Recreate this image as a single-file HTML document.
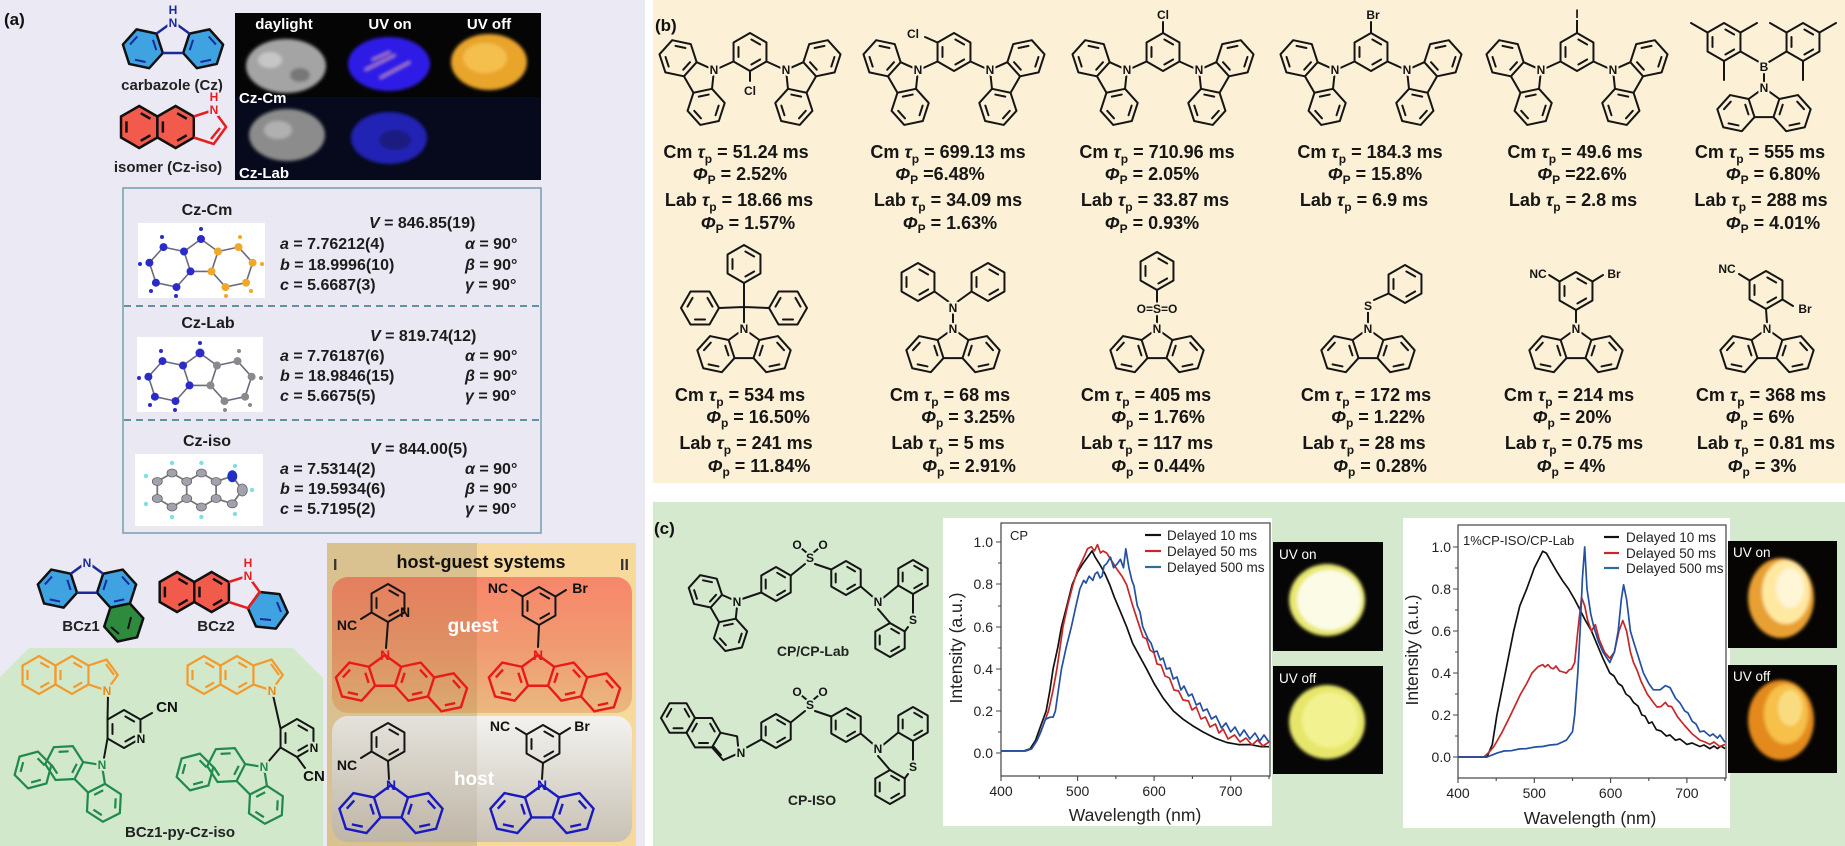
<!DOCTYPE html>
<html><head><meta charset="utf-8">
<style>
html,body{margin:0;padding:0;background:#fff;}
svg{display:block;}
text{font-family:"Liberation Sans",Arial,sans-serif;}
.t{font-size:18px;font-weight:bold;fill:#161616;text-anchor:middle;}
.cr{font-size:16px;font-weight:bold;fill:#1c1c1c;}
.i{font-style:italic;}
.ml{fill:none;stroke:#151515;stroke-width:2;stroke-linejoin:round;stroke-linecap:round;}
.at{font-size:12px;font-weight:bold;text-anchor:middle;paint-order:stroke;stroke-width:4px;stroke-linejoin:round;}
.atb{stroke:#fcf0d6;fill:#151515;}
.atc{stroke:#d5e9cf;fill:#151515;}
.tk{font-size:14px;fill:#222;}
.lg{font-size:13.5px;fill:#222;}
.cv{fill:none;stroke-width:1.7;stroke-linejoin:round;}
</style></head>
<body>
<svg width="1845" height="846" viewBox="0 0 1845 846" xmlns="http://www.w3.org/2000/svg">
<defs>
 <path id="czR" vector-effect="non-scaling-stroke" d="M0.809,-0.263 L1.787,-0.471 L2.456,0.272 L2.147,1.223 L1.169,1.431 L0.5,0.688 Z M-0.809,-0.263 L-1.787,-0.471 L-2.456,0.272 L-2.147,1.223 L-1.169,1.431 L-0.5,0.688 Z"/>
 <path id="czP" vector-effect="non-scaling-stroke" fill="none" d="M-0.809,-0.263 L0,-0.851 L0.809,-0.263 M-0.5,0.688 L0.5,0.688"/>
 <path id="czI" vector-effect="non-scaling-stroke" fill="none" d="M1.750,-0.124 L2.107,0.272 M1.864,1.018 L1.344,1.128 M0.819,0.546 L0.984,0.040 M-1.750,-0.124 L-2.107,0.272 M-1.864,1.018 L-1.344,1.128 M-0.819,0.546 L-0.984,0.040"/>
 <g id="cz"><use href="#czR"/><use href="#czP"/><use href="#czI"/></g>
 <path id="hx" vector-effect="non-scaling-stroke" d="M0,-1 L0.866,-0.5 L0.866,0.5 L0,1 L-0.866,0.5 L-0.866,-0.5 Z M0.073,-0.658 L0.533,-0.392 M0.533,0.392 L0.073,0.658 M-0.606,0.266 L-0.606,-0.266"/>
 <path id="bzx" vector-effect="non-scaling-stroke" fill="none" d="M2.456,0.272 L3.434,0.064 L4.103,0.807 L3.794,1.758 L2.816,1.966 L2.147,1.223 M3.397,0.411 L3.754,0.807 M3.511,1.553 L2.991,1.663"/>
 <linearGradient id="gg" x1="0" y1="0" x2="0" y2="1"><stop offset="0" stop-color="#f7866a"/><stop offset="0.55" stop-color="#f09c72"/><stop offset="1" stop-color="#e9b97f"/></linearGradient>
 <linearGradient id="hg" x1="0" y1="0" x2="0" y2="1"><stop offset="0" stop-color="#f3f2ef"/><stop offset="1" stop-color="#c8c1b4"/></linearGradient>
 <clipPath id="gc"><rect x="332" y="577" width="300" height="136" rx="16"/></clipPath>
 <clipPath id="hc"><rect x="332" y="716" width="300" height="126" rx="16"/></clipPath>
 <filter id="bl" x="-20%" y="-20%" width="140%" height="140%"><feGaussianBlur stdDeviation="1.6"/></filter>
 <filter id="bl2" x="-20%" y="-20%" width="140%" height="140%"><feGaussianBlur stdDeviation="3"/></filter>
</defs>

<!-- panel backgrounds -->
<rect x="0" y="0" width="1845" height="846" fill="#ffffff"/>
<rect x="0" y="0" width="645" height="846" fill="#ebe9f4"/>
<rect x="653" y="0" width="1192" height="483" fill="#fcf0d6"/>
<rect x="653" y="502" width="1192" height="344" fill="#d5e9cf"/>

<!-- ================= PANEL (a) ================= -->
<text x="4" y="25" font-size="17" font-weight="bold" fill="#111">(a)</text>

<!-- carbazole (Cz) colored -->
<use href="#czR" transform="translate(173,39) scale(20.4)" fill="#3fa3e2" stroke="#111" stroke-width="2.5" stroke-linejoin="round"/>
<use href="#czI" transform="translate(173,39) scale(20.4)" stroke="#1a2a9a" stroke-width="2"/>
<use href="#czP" transform="translate(173,39) scale(20.4)" stroke="#1a2a9a" stroke-width="2.5"/>
<text x="173" y="27" class="at" style="stroke:#ebe9f4;fill:#1a2a9a" font-size="13">N</text>
<text x="173" y="14" class="at" style="stroke:#ebe9f4;fill:#1a2a9a" font-size="13">H</text>
<text x="172" y="90" font-size="15" font-weight="bold" fill="#222" text-anchor="middle">carbazole (Cz)</text>

<!-- isomer -->
<use href="#hx" transform="translate(139.2,127) scale(21)" fill="#f25a4c" stroke="#111" stroke-width="2.5"/>
<use href="#hx" transform="translate(175.6,127) scale(21)" fill="#f25a4c" stroke="#111" stroke-width="2.5"/>
<path d="M193.8,116.5 L213.7,110 L226.1,127 L213.7,144 L193.8,137.5 M220,128 L211,139" fill="none" stroke="#e81e1e" stroke-width="2.5" stroke-linejoin="round"/>
<text x="214" y="114" class="at" style="stroke:#ebe9f4;fill:#e81e1e" font-size="13">N</text>
<text x="214" y="101" class="at" style="stroke:#ebe9f4;fill:#e81e1e" font-size="13">H</text>
<text x="168" y="172" font-size="15" font-weight="bold" fill="#222" text-anchor="middle">isomer (Cz-iso)</text>

<!-- photos -->
<rect x="235" y="13" width="306" height="167" fill="#050505"/>
<rect x="235" y="97" width="306" height="83" fill="#060a1c"/>
<g filter="url(#bl)">
 <ellipse cx="286" cy="66" rx="40" ry="27" fill="#a4a4a4"/>
 <ellipse cx="270" cy="60" rx="12" ry="8" fill="#c6c6c6"/>
 <ellipse cx="300" cy="75" rx="10" ry="7" fill="#777"/>
 <ellipse cx="389" cy="64" rx="41" ry="27" fill="#2d1de6"/>
 <path d="M365,70 L395,55 M380,78 L410,62 M372,60 L390,52" stroke="#c08a9a" stroke-width="2"/>
 <ellipse cx="489" cy="62" rx="38" ry="28" fill="#e9a42a"/>
 <ellipse cx="485" cy="58" rx="22" ry="15" fill="#f4bf4e"/>
 <ellipse cx="287" cy="135" rx="38" ry="26" fill="#8c8c8c"/>
 <ellipse cx="278" cy="130" rx="14" ry="9" fill="#b0b0b0"/>
 <ellipse cx="389" cy="138" rx="38" ry="26" fill="#2424b4"/>
 <ellipse cx="395" cy="140" rx="16" ry="10" fill="#1a1a80"/>
</g>
<text x="284" y="29" font-size="15" font-weight="bold" fill="#fff" text-anchor="middle">daylight</text>
<text x="390" y="29" font-size="15" font-weight="bold" fill="#fff" text-anchor="middle">UV on</text>
<text x="489" y="29" font-size="15" font-weight="bold" fill="#fff" text-anchor="middle">UV off</text>
<text x="239" y="103" font-size="15" font-weight="bold" fill="#fff">Cz-Cm</text>
<text x="239" y="178" font-size="15" font-weight="bold" fill="#fff">Cz-Lab</text>

<!-- crystal data box -->
<rect x="123" y="188" width="418" height="345" fill="#e9e8f3" stroke="#7ba3b3" stroke-width="1.6"/>
<path d="M124,306 H540 M124,420 H540" stroke="#5e93a4" stroke-width="2" stroke-dasharray="7 5"/>

<!-- ORTEP 1 -->
<rect x="138" y="223" width="127" height="75" fill="#fff"/>
<use href="#czR" transform="translate(201,257) scale(21)" fill="none" stroke="#6a6a80" stroke-width="1.6"/>
<use href="#czP" transform="translate(201,257) scale(21)" stroke="#6a6a80" stroke-width="1.6"/>
<g fill="#2b2bc8">
 <circle cx="201" cy="239" r="4"/><circle cx="184" cy="251.5" r="4"/><circle cx="163.5" cy="247.1" r="4"/><circle cx="149.4" cy="262.7" r="4"/><circle cx="155.9" cy="282.7" r="4"/><circle cx="176.5" cy="287.1" r="4"/><circle cx="190.5" cy="271.4" r="4"/>
 <circle cx="201" cy="229" r="2"/><circle cx="162" cy="237" r="2"/><circle cx="140" cy="264" r="2"/><circle cx="151" cy="291" r="2"/><circle cx="176" cy="296" r="2"/>
</g>
<g fill="#f0a828">
 <circle cx="218" cy="251.5" r="4"/><circle cx="238.5" cy="247.1" r="4"/><circle cx="252.6" cy="262.7" r="4"/><circle cx="246.1" cy="282.7" r="4"/><circle cx="225.5" cy="287.1" r="4"/><circle cx="211.5" cy="271.4" r="4"/>
 <circle cx="240" cy="237" r="2"/><circle cx="262" cy="264" r="2"/><circle cx="251" cy="291" r="2"/><circle cx="226" cy="296" r="2"/>
</g>
<!-- ORTEP 2 -->
<rect x="137" y="337" width="126" height="75" fill="#fff"/>
<use href="#czR" transform="translate(200,371) scale(21)" fill="none" stroke="#6a6a80" stroke-width="1.6"/>
<use href="#czP" transform="translate(200,371) scale(21)" stroke="#6a6a80" stroke-width="1.6"/>
<g fill="#2b2bc8">
 <circle cx="200" cy="353" r="4.5"/><circle cx="183" cy="365.5" r="4"/><circle cx="162.5" cy="361.1" r="4"/><circle cx="148.4" cy="376.7" r="4"/><circle cx="154.9" cy="396.7" r="4"/><circle cx="175.5" cy="401.1" r="4"/><circle cx="189.5" cy="385.4" r="4"/>
 <circle cx="200" cy="343" r="2"/><circle cx="161" cy="351" r="2"/><circle cx="139" cy="378" r="2"/><circle cx="150" cy="405" r="2"/><circle cx="175" cy="410" r="2"/>
</g>
<g fill="#8a8a8a">
 <circle cx="217" cy="365.5" r="4"/><circle cx="237.5" cy="361.1" r="4"/><circle cx="251.6" cy="376.7" r="4"/><circle cx="245.1" cy="396.7" r="4"/><circle cx="224.5" cy="401.1" r="4"/><circle cx="210.5" cy="385.4" r="4"/>
 <circle cx="239" cy="351" r="2"/><circle cx="261" cy="378" r="2"/><circle cx="250" cy="405" r="2"/><circle cx="225" cy="410" r="2"/>
</g>
<!-- ORTEP 3 -->
<rect x="135" y="454" width="128" height="72" fill="#fff"/>
<path d="M172,473 L186.7,481.5 L186.7,498.5 L172,507 L157.3,498.5 L157.3,481.5 Z M186.7,481.5 L201.4,473 L216.1,481.5 L216.1,498.5 L201.4,507 L186.7,498.5 M216.1,481.5 L232.3,476.2 L242.3,490 L232.3,503.8 L216.1,498.5" fill="none" stroke="#777" stroke-width="1.8"/>
<g fill="#a2a2ae" stroke="#666" stroke-width="0.8">
 <ellipse cx="172" cy="473" rx="5" ry="4"/><ellipse cx="186.7" cy="481.5" rx="5" ry="4"/><ellipse cx="186.7" cy="498.5" rx="5" ry="4"/><ellipse cx="172" cy="507" rx="5" ry="4"/><ellipse cx="157.3" cy="498.5" rx="5" ry="4"/><ellipse cx="157.3" cy="481.5" rx="5" ry="4"/>
 <ellipse cx="201.4" cy="473" rx="5" ry="4"/><ellipse cx="216.1" cy="481.5" rx="5" ry="4"/><ellipse cx="216.1" cy="498.5" rx="5" ry="4"/><ellipse cx="201.4" cy="507" rx="5" ry="4"/>
 <ellipse cx="242.3" cy="490" rx="5" ry="6"/><ellipse cx="232.3" cy="503.8" rx="5" ry="4"/>
</g>
<ellipse cx="232.3" cy="476.2" rx="5" ry="6" fill="#2030c0"/>
<g fill="#7ee0e0">
 <circle cx="172" cy="463" r="2.2"/><circle cx="146" cy="476" r="2.2"/><circle cx="146" cy="504" r="2.2"/><circle cx="172" cy="517" r="2.2"/><circle cx="201.4" cy="463" r="2.2"/><circle cx="201.4" cy="517" r="2.2"/><circle cx="235" cy="466" r="2.2"/><circle cx="252" cy="490" r="2.2"/><circle cx="235" cy="514" r="2.2"/>
</g>

<!-- crystal texts -->
<text class="cr" x="207" y="215" text-anchor="middle" font-size="15">Cz-Cm</text>
<text class="cr" x="369" y="228"><tspan class="i">V</tspan> = 846.85(19)</text>
<text class="cr" x="280" y="249"><tspan class="i">a</tspan> = 7.76212(4)</text>
<text class="cr" x="465" y="249"><tspan class="i">α</tspan> = 90°</text>
<text class="cr" x="280" y="270"><tspan class="i">b</tspan> = 18.9996(10)</text>
<text class="cr" x="465" y="270"><tspan class="i">β</tspan> = 90°</text>
<text class="cr" x="280" y="290"><tspan class="i">c</tspan> = 5.6687(3)</text>
<text class="cr" x="465" y="290"><tspan class="i">γ</tspan> = 90°</text>

<text class="cr" x="208" y="328" text-anchor="middle" font-size="15">Cz-Lab</text>
<text class="cr" x="370" y="341"><tspan class="i">V</tspan> = 819.74(12)</text>
<text class="cr" x="280" y="361"><tspan class="i">a</tspan> = 7.76187(6)</text>
<text class="cr" x="465" y="361"><tspan class="i">α</tspan> = 90°</text>
<text class="cr" x="280" y="381"><tspan class="i">b</tspan> = 18.9846(15)</text>
<text class="cr" x="465" y="381"><tspan class="i">β</tspan> = 90°</text>
<text class="cr" x="280" y="401"><tspan class="i">c</tspan> = 5.6675(5)</text>
<text class="cr" x="465" y="401"><tspan class="i">γ</tspan> = 90°</text>

<text class="cr" x="207" y="446" text-anchor="middle" font-size="15">Cz-iso</text>
<text class="cr" x="370" y="454"><tspan class="i">V</tspan> = 844.00(5)</text>
<text class="cr" x="280" y="474"><tspan class="i">a</tspan> = 7.5314(2)</text>
<text class="cr" x="465" y="474"><tspan class="i">α</tspan> = 90°</text>
<text class="cr" x="280" y="494"><tspan class="i">b</tspan> = 19.5934(6)</text>
<text class="cr" x="465" y="494"><tspan class="i">β</tspan> = 90°</text>
<text class="cr" x="280" y="514"><tspan class="i">c</tspan> = 5.7195(2)</text>
<text class="cr" x="465" y="514"><tspan class="i">γ</tspan> = 90°</text>

<!-- BCz1 -->
<use href="#czR" transform="translate(87,579) scale(20)" fill="#3fa3e2" stroke="#111" stroke-width="2.5"/>
<polygon points="129.9,603.5 143.3,618.3 137.1,637.3 117.6,641.5 104.2,626.6 110.4,607.6" fill="#2e8b3e" stroke="#111" stroke-width="2.5" stroke-linejoin="round"/>
<path d="M131,617 L128,629 M119,634 L111,627" stroke="#111" stroke-width="2"/>
<use href="#czI" transform="translate(87,579) scale(20)" stroke="#1a2a9a" stroke-width="2"/>
<use href="#czP" transform="translate(87,579) scale(20)" stroke="#1a2a9a" stroke-width="2.5"/>
<text x="87" y="567" class="at" style="stroke:#ebe9f4;fill:#1a2a9a" font-size="13">N</text>
<text x="81" y="631" font-size="15" font-weight="bold" fill="#222" text-anchor="middle">BCz1</text>

<!-- BCz2 -->
<use href="#hx" transform="translate(177,592) scale(20)" fill="#f25a4c" stroke="#111" stroke-width="2.5"/>
<use href="#hx" transform="translate(211.6,592) scale(20)" fill="#f25a4c" stroke="#111" stroke-width="2.5"/>
<polygon points="259.7,592 279.6,594.1 287.7,612.4 275.9,628.6 256,626.5 247.9,608.2" fill="#3fa3e2" stroke="#111" stroke-width="2.5" stroke-linejoin="round"/>
<path d="M228.9,582 L247.9,575.8 L259.7,592 L247.9,608.2 L228.9,602" fill="none" stroke="#e81e1e" stroke-width="2.5"/>
<path d="M277,602 L281,612 M271,620 L260,619" stroke="#1a2a9a" stroke-width="2"/>
<text x="248" y="580" class="at" style="stroke:#ebe9f4;fill:#e81e1e" font-size="13">N</text>
<text x="248" y="567" class="at" style="stroke:#ebe9f4;fill:#e81e1e" font-size="13">H</text>
<text x="216" y="631" font-size="15" font-weight="bold" fill="#222" text-anchor="middle">BCz2</text>

<!-- green region -->
<polygon points="0,677 29,648 293,648 323,678 323,846 0,846" fill="#d2e8cb"/>
<!-- left molecule -->
<g stroke="#f39a2c" stroke-width="2.2" fill="none">
 <use href="#hx" transform="translate(39,675) scale(19)"/>
 <use href="#hx" transform="translate(72,675) scale(19)"/>
 <path d="M88.5,665.5 L106.6,659.6 L117.8,675 L106.6,690.4 L88.5,684.5 M106,664 L114,675"/>
 <use href="#hx" transform="translate(204,675) scale(19)"/>
 <use href="#hx" transform="translate(237,675) scale(19)"/>
 <path d="M253.5,665.5 L271.6,659.6 L282.8,675 L271.6,690.4 L253.5,684.5 M271,664 L279,675"/>
</g>
<g class="ml" stroke-width="2.2">
 <use href="#hx" transform="translate(124,729) scale(19)"/>
 <path d="M108,695 L107.5,719.5 M140.5,719.5 L152,713 M107.5,738.5 L104,758"/>
 <use href="#hx" transform="translate(297,738) scale(19)"/>
 <path d="M273,695 L280.5,728.5 M297,757 L305,768 M280.5,747.5 L268,762"/>
</g>
<g stroke="#1f8a4c" stroke-width="2.2" fill="none">
 <use href="#cz" transform="translate(90.5,776.5) rotate(45) scale(19)"/>
 <use href="#hx" transform="translate(33,770) rotate(15) scale(19)"/>
 <use href="#cz" transform="translate(252.5,778.5) rotate(45) scale(19)"/>
 <use href="#hx" transform="translate(195,772) rotate(15) scale(19)"/>
</g>
<text x="107" y="695" class="at" style="stroke:#d2e8cb;fill:#e8891a">N</text>
<text x="272" y="695" class="at" style="stroke:#d2e8cb;fill:#e8891a">N</text>
<text x="141" y="743" class="at" style="stroke:#d2e8cb;fill:#111">N</text>
<text x="314" y="752" class="at" style="stroke:#d2e8cb;fill:#111">N</text>
<text x="167" y="712" font-size="15" font-weight="bold" fill="#111" text-anchor="middle">CN</text>
<text x="314" y="781" font-size="15" font-weight="bold" fill="#111" text-anchor="middle">CN</text>
<text x="102" y="769" class="at" style="stroke:#d2e8cb;fill:#1f8a4c">N</text>
<text x="264" y="771" class="at" style="stroke:#d2e8cb;fill:#1f8a4c">N</text>
<text x="180" y="837" font-size="15" font-weight="bold" fill="#222" text-anchor="middle">BCz1-py-Cz-iso</text>

<!-- host-guest box -->
<rect x="327" y="543" width="150" height="303" fill="#d9c28f"/>
<rect x="477" y="543" width="159" height="303" fill="#f6d99b"/>
<g clip-path="url(#gc)">
 <rect x="332" y="577" width="300" height="136" fill="url(#gg)"/>
 <rect x="332" y="577" width="145" height="136" fill="#6a4a10" opacity="0.13"/>
</g>
<g clip-path="url(#hc)">
 <rect x="332" y="716" width="300" height="126" fill="url(#hg)"/>
 <rect x="332" y="716" width="145" height="126" fill="#6a5a30" opacity="0.1"/>
</g>
<text x="333" y="570" font-size="16" font-weight="bold" fill="#333">I</text>
<text x="620" y="570" font-size="16" font-weight="bold" fill="#333">II</text>
<text x="481" y="568" font-size="18" font-weight="bold" fill="#111" text-anchor="middle">host-guest systems</text>
<text x="473" y="632" font-size="19" font-weight="bold" fill="#fff" text-anchor="middle">guest</text>
<text x="474" y="785" font-size="19" font-weight="bold" fill="#fff" text-anchor="middle">host</text>
<!-- guest I -->
<g class="ml" stroke-width="2.2">
 <use href="#hx" transform="translate(388,603) scale(19)"/>
 <path d="M388,622 L386,648 M371.5,612.5 L361,619"/>
 <use href="#hx" transform="translate(539,606) scale(19)"/>
 <path d="M539,625 L538,647 M522.5,596.5 L512,590 M555.5,596.5 L566,590"/>
 <use href="#hx" transform="translate(388,742) scale(19)"/>
 <path d="M388,761 L389,779 M371.5,751.5 L361,758"/>
 <use href="#hx" transform="translate(543,744) scale(19)"/>
 <path d="M543,763 L542,779 M526.5,734.5 L516,728 M559.5,734.5 L570,728"/>
</g>
<g stroke="#ea1a1a" stroke-width="2.4" fill="none">
 <use href="#cz" transform="translate(385,672) scale(20)"/>
 <use href="#bzx" transform="translate(385,672) scale(20)"/>
 <use href="#cz" transform="translate(538,672) scale(20)"/>
 <use href="#bzx" transform="translate(538,672) scale(20)"/>
</g>
<g stroke="#1a1ac0" stroke-width="2.4" fill="none">
 <use href="#cz" transform="translate(391,803) scale(21)"/>
 <use href="#cz" transform="translate(542,803) scale(21)"/>
</g>
<text x="405" y="617" font-size="14" font-weight="bold" fill="#111" text-anchor="middle">N</text>
<text x="347" y="630" font-size="14" font-weight="bold" fill="#111" text-anchor="middle">NC</text>
<text x="385" y="660" font-size="14" font-weight="bold" fill="#ea1a1a" text-anchor="middle">N</text>
<text x="498" y="593" font-size="14" font-weight="bold" fill="#111" text-anchor="middle">NC</text>
<text x="580" y="593" font-size="14" font-weight="bold" fill="#111" text-anchor="middle">Br</text>
<text x="538" y="660" font-size="14" font-weight="bold" fill="#ea1a1a" text-anchor="middle">N</text>
<text x="347" y="770" font-size="14" font-weight="bold" fill="#111" text-anchor="middle">NC</text>
<text x="391" y="790" font-size="14" font-weight="bold" fill="#1a1ac0" text-anchor="middle">N</text>
<text x="500" y="731" font-size="14" font-weight="bold" fill="#111" text-anchor="middle">NC</text>
<text x="582" y="731" font-size="14" font-weight="bold" fill="#111" text-anchor="middle">Br</text>
<text x="542" y="790" font-size="14" font-weight="bold" fill="#1a1ac0" text-anchor="middle">N</text>

<!-- ================= PANEL (b) ================= -->
<text x="655" y="31" font-size="17" font-weight="bold" fill="#111">(b)</text>

<!-- row 1 molecules -->
<g class="ml">
 <g transform="translate(750,0)">
  <use href="#cz" transform="translate(-50,78) rotate(60) scale(19)"/>
  <use href="#cz" transform="translate(50,78) rotate(-60) scale(19)"/>
  <use href="#hx" transform="translate(0,52) scale(19)"/>
  <path d="M-16.5,61.5 L-33,69 M16.5,61.5 L33,69 M0,71 L0,81"/>
 </g>
 <g transform="translate(954,0)">
  <use href="#cz" transform="translate(-50,78) rotate(60) scale(19)"/>
  <use href="#cz" transform="translate(50,78) rotate(-60) scale(19)"/>
  <use href="#hx" transform="translate(0,52) scale(19)"/>
  <path d="M-16.5,61.5 L-33,69 M16.5,61.5 L33,69 M-16.5,42.5 L-29,37"/>
 </g>
 <g transform="translate(1163,0)">
  <use href="#cz" transform="translate(-50,78) rotate(60) scale(19)"/>
  <use href="#cz" transform="translate(50,78) rotate(-60) scale(19)"/>
  <use href="#hx" transform="translate(0,52) scale(19)"/>
  <path d="M-16.5,61.5 L-33,69 M16.5,61.5 L33,69 M0,33 L0,22"/>
 </g>
 <g transform="translate(1371,0)">
  <use href="#cz" transform="translate(-50,78) rotate(60) scale(19)"/>
  <use href="#cz" transform="translate(50,78) rotate(-60) scale(19)"/>
  <use href="#hx" transform="translate(0,52) scale(19)"/>
  <path d="M-16.5,61.5 L-33,69 M16.5,61.5 L33,69 M0,33 L0,22"/>
 </g>
 <g transform="translate(1577,0)">
  <use href="#cz" transform="translate(-50,78) rotate(60) scale(19)"/>
  <use href="#cz" transform="translate(50,78) rotate(-60) scale(19)"/>
  <use href="#hx" transform="translate(0,52) scale(19)"/>
  <path d="M-16.5,61.5 L-33,69 M16.5,61.5 L33,69 M0,33 L0,20"/>
 </g>
 <!-- col6 BMes2 -->
 <use href="#cz" transform="translate(1764,104) scale(19)"/>
 <use href="#hx" transform="translate(1724,42) scale(19)"/>
 <use href="#hx" transform="translate(1803,42) scale(19)"/>
 <path d="M1764,84 L1764,74 M1759,62 L1740.5,51.5 M1769,62 L1786.5,51.5 M1724,61 L1724,80 M1740.5,32.5 L1757,23 M1707.5,32.5 L1691,23 M1803,61 L1803,80 M1786.5,32.5 L1770,23 M1819.5,32.5 L1836,23"/>
</g>
<g>
 <text x="714" y="74" class="at atb">N</text><text x="786" y="74" class="at atb">N</text>
 <text x="750" y="95" class="at atb">Cl</text>
 <text x="918" y="74" class="at atb">N</text><text x="990" y="74" class="at atb">N</text>
 <text x="913" y="38" class="at atb">Cl</text>
 <text x="1127" y="74" class="at atb">N</text><text x="1199" y="74" class="at atb">N</text>
 <text x="1163" y="19" class="at atb">Cl</text>
 <text x="1335" y="74" class="at atb">N</text><text x="1407" y="74" class="at atb">N</text>
 <text x="1373" y="19" class="at atb">Br</text>
 <text x="1541" y="74" class="at atb">N</text><text x="1613" y="74" class="at atb">N</text>
 <text x="1577" y="18" class="at atb">I</text>
 <text x="1764" y="92" class="at atb">N</text>
 <text x="1764" y="71" class="at atb">B</text>
</g>

<!-- row 1 texts -->
<g class="t">
 <text x="736" y="158">Cm <tspan class="i">τ</tspan><tspan font-size="12" dy="5">p</tspan><tspan dy="-5"> = 51.24 ms</tspan></text>
 <text x="740" y="180"><tspan class="i">Φ</tspan><tspan font-size="12" dy="4">P</tspan><tspan dy="-4"> = 2.52%</tspan></text>
 <text x="739" y="206">Lab <tspan class="i">τ</tspan><tspan font-size="12" dy="5">p</tspan><tspan dy="-5"> = 18.66 ms</tspan></text>
 <text x="748" y="229"><tspan class="i">Φ</tspan><tspan font-size="12" dy="4">P</tspan><tspan dy="-4"> = 1.57%</tspan></text>

 <text x="948" y="158">Cm <tspan class="i">τ</tspan><tspan font-size="12" dy="5">p</tspan><tspan dy="-5"> = 699.13 ms</tspan></text>
 <text x="940" y="180"><tspan class="i">Φ</tspan><tspan font-size="12" dy="4">P</tspan><tspan dy="-4"> =6.48%</tspan></text>
 <text x="948" y="206">Lab <tspan class="i">τ</tspan><tspan font-size="12" dy="5">p</tspan><tspan dy="-5"> = 34.09 ms</tspan></text>
 <text x="950" y="229"><tspan class="i">Φ</tspan><tspan font-size="12" dy="4">P</tspan><tspan dy="-4"> = 1.63%</tspan></text>

 <text x="1157" y="158">Cm <tspan class="i">τ</tspan><tspan font-size="12" dy="5">p</tspan><tspan dy="-5"> = 710.96 ms</tspan></text>
 <text x="1152" y="180"><tspan class="i">Φ</tspan><tspan font-size="12" dy="4">P</tspan><tspan dy="-4"> = 2.05%</tspan></text>
 <text x="1155" y="206">Lab <tspan class="i">τ</tspan><tspan font-size="12" dy="5">p</tspan><tspan dy="-5"> = 33.87 ms</tspan></text>
 <text x="1152" y="229"><tspan class="i">Φ</tspan><tspan font-size="12" dy="4">P</tspan><tspan dy="-4"> = 0.93%</tspan></text>

 <text x="1370" y="158">Cm <tspan class="i">τ</tspan><tspan font-size="12" dy="5">p</tspan><tspan dy="-5"> = 184.3 ms</tspan></text>
 <text x="1375" y="180"><tspan class="i">Φ</tspan><tspan font-size="12" dy="4">P</tspan><tspan dy="-4"> = 15.8%</tspan></text>
 <text x="1364" y="206">Lab <tspan class="i">τ</tspan><tspan font-size="12" dy="5">p</tspan><tspan dy="-5"> = 6.9 ms</tspan></text>

 <text x="1575" y="158">Cm <tspan class="i">τ</tspan><tspan font-size="12" dy="5">p</tspan><tspan dy="-5"> = 49.6 ms</tspan></text>
 <text x="1582" y="180"><tspan class="i">Φ</tspan><tspan font-size="12" dy="4">P</tspan><tspan dy="-4"> =22.6%</tspan></text>
 <text x="1573" y="206">Lab <tspan class="i">τ</tspan><tspan font-size="12" dy="5">p</tspan><tspan dy="-5"> = 2.8 ms</tspan></text>

 <text x="1760" y="158">Cm <tspan class="i">τ</tspan><tspan font-size="12" dy="5">p</tspan><tspan dy="-5"> = 555 ms</tspan></text>
 <text x="1773" y="180"><tspan class="i">Φ</tspan><tspan font-size="12" dy="4">P</tspan><tspan dy="-4"> = 6.80%</tspan></text>
 <text x="1761" y="206">Lab <tspan class="i">τ</tspan><tspan font-size="12" dy="5">p</tspan><tspan dy="-5"> = 288 ms</tspan></text>
 <text x="1773" y="229"><tspan class="i">Φ</tspan><tspan font-size="12" dy="4">P</tspan><tspan dy="-4"> = 4.01%</tspan></text>
</g>

<!-- row 2 molecules -->
<g class="ml">
 <use href="#cz" transform="translate(744,345) scale(19)"/>
 <use href="#hx" transform="translate(744,264) scale(19)"/>
 <use href="#hx" transform="translate(700,308) rotate(30) scale(19)"/>
 <use href="#hx" transform="translate(788,308) rotate(30) scale(19)"/>
 <path d="M744,323 L744,307 M744,307 L744,283 M719,308 L744,307 L769,308"/>

 <use href="#cz" transform="translate(953,345) scale(19)"/>
 <use href="#hx" transform="translate(918,282) scale(19)"/>
 <use href="#hx" transform="translate(988,282) scale(19)"/>
 <path d="M953,323 L953,314 M949,302 L934.5,291.5 M957,302 L971.5,291.5"/>

 <use href="#cz" transform="translate(1157,345) scale(19)"/>
 <use href="#hx" transform="translate(1157,271) scale(19)"/>
 <path d="M1157,323 L1157,316 M1157,290 L1157,302"/>

 <use href="#cz" transform="translate(1368,345) scale(19)"/>
 <use href="#hx" transform="translate(1405,284) scale(19)"/>
 <path d="M1368,323 L1368,312 M1374,300 L1388.5,293.5"/>

 <use href="#cz" transform="translate(1576,345) scale(19)"/>
 <use href="#hx" transform="translate(1576,291) scale(19)"/>
 <path d="M1576,310 L1576,323 M1559.5,281.5 L1549,275 M1592.5,281.5 L1603,275"/>

 <use href="#cz" transform="translate(1767,345) scale(19)"/>
 <use href="#hx" transform="translate(1766,290) scale(19)"/>
 <path d="M1766,309 L1767,323 M1749.5,280.5 L1739,274 M1782.5,299.5 L1793,306"/>
</g>
<g>
 <text x="744" y="333" class="at atb">N</text>
 <text x="953" y="333" class="at atb">N</text>
 <text x="953" y="312" class="at atb">N</text>
 <text x="1157" y="333" class="at atb">N</text>
 <text x="1157" y="313" class="at atb">O=S=O</text>
 <text x="1368" y="333" class="at atb">N</text>
 <text x="1368" y="310" class="at atb">S</text>
 <text x="1576" y="333" class="at atb">N</text>
 <text x="1538" y="278" class="at atb">NC</text>
 <text x="1614" y="278" class="at atb">Br</text>
 <text x="1767" y="333" class="at atb">N</text>
 <text x="1727" y="273" class="at atb">NC</text>
 <text x="1805" y="313" class="at atb">Br</text>
</g>

<!-- row 2 texts -->
<g class="t">
 <text x="740" y="401">Cm <tspan class="i">τ</tspan><tspan font-size="12" dy="5">p</tspan><tspan dy="-5"> = 534 ms</tspan></text>
 <text x="758" y="423"><tspan class="i">Φ</tspan><tspan font-size="12" dy="4">p</tspan><tspan dy="-4"> = 16.50%</tspan></text>
 <text x="746" y="449">Lab <tspan class="i">τ</tspan><tspan font-size="12" dy="5">p</tspan><tspan dy="-5"> = 241 ms</tspan></text>
 <text x="759" y="472"><tspan class="i">Φ</tspan><tspan font-size="12" dy="4">p</tspan><tspan dy="-4"> = 11.84%</tspan></text>

 <text x="950" y="401">Cm <tspan class="i">τ</tspan><tspan font-size="12" dy="5">p</tspan><tspan dy="-5"> = 68 ms</tspan></text>
 <text x="968" y="423"><tspan class="i">Φ</tspan><tspan font-size="12" dy="4">p</tspan><tspan dy="-4"> = 3.25%</tspan></text>
 <text x="948" y="449">Lab <tspan class="i">τ</tspan><tspan font-size="12" dy="5">p</tspan><tspan dy="-5"> = 5 ms</tspan></text>
 <text x="969" y="472"><tspan class="i">Φ</tspan><tspan font-size="12" dy="4">p</tspan><tspan dy="-4"> = 2.91%</tspan></text>

 <text x="1146" y="401">Cm <tspan class="i">τ</tspan><tspan font-size="12" dy="5">p</tspan><tspan dy="-5"> = 405 ms</tspan></text>
 <text x="1158" y="423"><tspan class="i">Φ</tspan><tspan font-size="12" dy="4">p</tspan><tspan dy="-4"> = 1.76%</tspan></text>
 <text x="1147" y="449">Lab <tspan class="i">τ</tspan><tspan font-size="12" dy="5">p</tspan><tspan dy="-5"> = 117 ms</tspan></text>
 <text x="1158" y="472"><tspan class="i">Φ</tspan><tspan font-size="12" dy="4">p</tspan><tspan dy="-4"> = 0.44%</tspan></text>

 <text x="1366" y="401">Cm <tspan class="i">τ</tspan><tspan font-size="12" dy="5">p</tspan><tspan dy="-5"> = 172 ms</tspan></text>
 <text x="1378" y="423"><tspan class="i">Φ</tspan><tspan font-size="12" dy="4">p</tspan><tspan dy="-4"> = 1.22%</tspan></text>
 <text x="1364" y="449">Lab <tspan class="i">τ</tspan><tspan font-size="12" dy="5">p</tspan><tspan dy="-5"> = 28 ms</tspan></text>
 <text x="1380" y="472"><tspan class="i">Φ</tspan><tspan font-size="12" dy="4">p</tspan><tspan dy="-4"> = 0.28%</tspan></text>

 <text x="1569" y="401">Cm <tspan class="i">τ</tspan><tspan font-size="12" dy="5">p</tspan><tspan dy="-5"> = 214 ms</tspan></text>
 <text x="1572" y="423"><tspan class="i">Φ</tspan><tspan font-size="12" dy="4">p</tspan><tspan dy="-4"> = 20%</tspan></text>
 <text x="1574" y="449">Lab <tspan class="i">τ</tspan><tspan font-size="12" dy="5">p</tspan><tspan dy="-5"> = 0.75 ms</tspan></text>
 <text x="1571" y="472"><tspan class="i">Φ</tspan><tspan font-size="12" dy="4">p</tspan><tspan dy="-4"> = 4%</tspan></text>

 <text x="1761" y="401">Cm <tspan class="i">τ</tspan><tspan font-size="12" dy="5">p</tspan><tspan dy="-5"> = 368 ms</tspan></text>
 <text x="1760" y="423"><tspan class="i">Φ</tspan><tspan font-size="12" dy="4">p</tspan><tspan dy="-4"> = 6%</tspan></text>
 <text x="1766" y="449">Lab <tspan class="i">τ</tspan><tspan font-size="12" dy="5">p</tspan><tspan dy="-5"> = 0.81 ms</tspan></text>
 <text x="1762" y="472"><tspan class="i">Φ</tspan><tspan font-size="12" dy="4">p</tspan><tspan dy="-4"> = 3%</tspan></text>
</g>

<!-- ================= PANEL (c) ================= -->
<text x="654" y="534" font-size="17" font-weight="bold" fill="#111">(c)</text>

<!-- CP molecule -->
<g class="ml" stroke-width="1.8">
 <use href="#cz" transform="translate(725,609) rotate(60) scale(17)"/>
 <use href="#hx" transform="translate(776,584) scale(17)"/>
 <use href="#hx" transform="translate(846,578) scale(17)"/>
 <use href="#hx" transform="translate(913,577) scale(17)"/>
 <use href="#hx" transform="translate(890,640) scale(17)"/>
 <path d="M742,599 L761.3,592.5 M790.7,575.5 L805,564 M815,564 L831.3,569.5 M860.7,586.5 L873,597 M883,598 L898.3,585.5 M878,609 L890,623 M913,594 L913,613 M904.7,631.5 L908,627 M807,553 L801,548 M813,553 L819,548"/>
</g>
<g class="ml" stroke-width="1.8" transform="translate(0,147)">
 <use href="#hx" transform="translate(776,584) scale(17)"/>
 <use href="#hx" transform="translate(846,578) scale(17)"/>
 <use href="#hx" transform="translate(913,577) scale(17)"/>
 <use href="#hx" transform="translate(890,640) scale(17)"/>
 <path d="M790.7,575.5 L805,564 M815,564 L831.3,569.5 M860.7,586.5 L873,597 M883,598 L898.3,585.5 M878,609 L890,623 M913,594 L913,613 M904.7,631.5 L908,627 M807,553 L801,548 M813,553 L819,548"/>
</g>
<g class="ml" stroke-width="1.8">
 <use href="#hx" transform="translate(678,718) rotate(30) scale(17)"/>
 <use href="#hx" transform="translate(703.5,732.7) rotate(30) scale(17)"/>
 <path d="M720.5,732.7 L737.1,736.3 L738.8,753.2 L723.2,760.1 L712,747.4 M721,755 L714,747 M744,749 L761.3,739.5"/>
</g>
<g>
 <text x="737" y="606" class="at atc" font-size="11">N</text>
 <text x="810" y="562" class="at atc" font-size="11">S</text>
 <text x="797" y="549" class="at atc" font-size="11">O</text>
 <text x="823" y="549" class="at atc" font-size="11">O</text>
 <text x="878" y="606" class="at atc" font-size="11">N</text>
 <text x="913" y="624" class="at atc" font-size="11">S</text>
 <text x="813" y="656" font-size="14" font-weight="bold" fill="#222" text-anchor="middle">CP/CP-Lab</text>
 <text x="741" y="757" class="at atc" font-size="11">N</text>
 <text x="810" y="709" class="at atc" font-size="11">S</text>
 <text x="797" y="696" class="at atc" font-size="11">O</text>
 <text x="823" y="696" class="at atc" font-size="11">O</text>
 <text x="878" y="753" class="at atc" font-size="11">N</text>
 <text x="913" y="771" class="at atc" font-size="11">S</text>
 <text x="812" y="805" font-size="14" font-weight="bold" fill="#222" text-anchor="middle">CP-ISO</text>
</g>

<!-- Chart 1 -->
<rect x="943" y="518" width="329" height="308" fill="#fff"/>
<rect x="1001" y="523" width="269" height="253" fill="none" stroke="#444" stroke-width="1.2"/>
<path d="M996,753 H1001 M996,711 H1001 M996,669 H1001 M996,627 H1001 M996,584 H1001 M996,542 H1001 M998,732 H1001 M998,690 H1001 M998,648 H1001 M998,606 H1001 M998,563 H1001 M1001,776 V781 M1077.6,776 V781 M1154.1,776 V781 M1230.7,776 V781 M1039.3,776 V779 M1115.9,776 V779 M1192.4,776 V779 M1269,776 V779" stroke="#444" stroke-width="1.1"/>
<g class="tk" text-anchor="end">
 <text x="993" y="758">0.0</text><text x="993" y="716">0.2</text><text x="993" y="674">0.4</text><text x="993" y="632">0.6</text><text x="993" y="589">0.8</text><text x="993" y="547">1.0</text>
</g>
<g class="tk" text-anchor="middle">
 <text x="1001" y="796">400</text><text x="1077.6" y="796">500</text><text x="1154.1" y="796">600</text><text x="1230.7" y="796">700</text>
</g>
<text x="1135" y="821" font-size="17.5" fill="#222" text-anchor="middle">Wavelength (nm)</text>
<text transform="translate(962,648) rotate(-90)" font-size="17.5" fill="#222" text-anchor="middle">Intensity (a.u.)</text>
<text x="1010" y="540" font-size="13" fill="#222">CP</text>
<path d="M1145,535 H1161" stroke="#111" stroke-width="2.2"/>
<path d="M1145,551 H1161" stroke="#c62828" stroke-width="2.2"/>
<path d="M1145,567 H1161" stroke="#2e6e9a" stroke-width="2.2"/>
<text class="lg" x="1167" y="540">Delayed 10 ms</text>
<text class="lg" x="1167" y="556">Delayed 50 ms</text>
<text class="lg" x="1167" y="572">Delayed 500 ms</text>
<polyline class="cv" stroke="#111" points="1001,750.9 1024,750.9 1030.1,748.8 1035.5,740.4 1040.8,725.6 1046.2,710.9 1050,689.9 1053.1,668.8 1057.7,647.8 1061.5,626.7 1066.9,605.7 1072.2,584.6 1077.6,572 1082.9,563.6 1087.5,557.2 1092.1,550.9 1095.2,557.2 1100.5,565.7 1105.1,574.1 1109.7,584.6 1114.3,597.2 1119.7,609.9 1126.6,626.7 1132.7,643.5 1139.6,656.2 1146.5,668.8 1154.1,683.5 1163.3,698.3 1173.3,710.9 1183.2,719.3 1192.4,725.6 1203.1,732 1215.4,738.3 1226.9,742.5 1238.4,744.6 1249.9,744.6 1261.3,746.7 1269,746.7"/>
<polyline class="cv" stroke="#c62828" points="1001,750.9 1025.5,750.9 1031.6,748.8 1037,740.4 1043.1,725.6 1048.5,710.9 1053.1,689.9 1056.9,668.8 1060,647.8 1063,626.7 1067.6,605.7 1073,584.6 1077.6,569.9 1082.9,559.3 1087.5,548.8 1091.4,546.7 1094.4,550.9 1097.5,544.6 1100.5,553 1103,551 1106.7,553 1112,561.4 1117.4,569.9 1122,576.2 1126.6,584.6 1132.7,605.7 1139.6,626.7 1143,637 1146.5,639 1150,650 1154.1,653 1157,664 1161,665 1165,676 1169.5,678 1174,690 1178.6,691 1183,700 1188.6,701 1192,710 1196.3,707 1201,719 1205.4,717 1210,727 1215.4,724 1219,733 1223.1,729 1228,739 1234.5,735 1240,742 1246,738 1252,745 1257.5,740 1263,746 1269,742"/>
<polyline class="cv" stroke="#2450a0" points="1001,750.9 1025.5,750.9 1031.6,748.8 1037,740.4 1040.8,732 1045.4,719.3 1050,717.2 1053.1,717.2 1055.4,710.9 1058.4,689.9 1061.5,668.8 1066.1,647.8 1071.4,626.7 1076,605.7 1079.9,588.8 1083.7,580.4 1086,583 1089.1,576.2 1092.9,580.4 1095,574 1097.5,572 1100,578 1102.1,576.2 1104,566 1106.7,563.6 1110.5,557.2 1113.6,567.8 1117.4,563.6 1120.4,559.3 1123.5,567.8 1125.8,548.8 1128.9,567.8 1131.9,580.4 1134,586 1137.3,605.7 1140,612 1142.7,626.7 1145,632 1148,639 1151,643 1154.1,652 1157,651 1160.3,660 1163,658 1166.4,669 1170,668 1173.3,679 1177,677 1180.9,690 1184,686 1188.6,696 1192,694 1196.3,705 1200,703 1203.1,711 1207,709 1211.5,719 1216,716 1221.5,728 1226,723 1230.7,732 1235,727 1239.9,736 1244,730 1249.9,739 1255,733 1259.8,741 1264,735 1269,742"/>

<!-- Chart 1 photos -->
<rect x="1273" y="542" width="110" height="109" fill="#060606"/>
<rect x="1273" y="666" width="110" height="108" fill="#060606"/>
<g filter="url(#bl)">
 <ellipse cx="1327" cy="600" rx="38" ry="36" fill="#e8e870"/>
 <ellipse cx="1329" cy="600" rx="32" ry="30" fill="#fbfbe6"/>
 <ellipse cx="1327" cy="722" rx="38" ry="37" fill="#e6e66a"/>
 <ellipse cx="1330" cy="720" rx="28" ry="28" fill="#f2f290"/>
</g>
<text x="1279" y="559" font-size="13.5" fill="#fff">UV on</text>
<text x="1279" y="683" font-size="13.5" fill="#fff">UV off</text>

<!-- Chart 2 -->
<rect x="1403" y="518" width="327" height="310" fill="#fff"/>
<rect x="1458" y="525" width="268" height="253" fill="none" stroke="#444" stroke-width="1.2"/>
<path d="M1453,757 H1458 M1453,715 H1458 M1453,673 H1458 M1453,631 H1458 M1453,589 H1458 M1453,547 H1458 M1455,736 H1458 M1455,694 H1458 M1455,652 H1458 M1455,610 H1458 M1455,568 H1458 M1458,778 V783 M1534.3,778 V783 M1610.6,778 V783 M1686.9,778 V783 M1496.2,778 V781 M1572.5,778 V781 M1648.8,778 V781 M1725,778 V781" stroke="#444" stroke-width="1.1"/>
<g class="tk" text-anchor="end">
 <text x="1451" y="762">0.0</text><text x="1451" y="720">0.2</text><text x="1451" y="678">0.4</text><text x="1451" y="636">0.6</text><text x="1451" y="594">0.8</text><text x="1451" y="552">1.0</text>
</g>
<g class="tk" text-anchor="middle">
 <text x="1458" y="798">400</text><text x="1534.3" y="798">500</text><text x="1610.6" y="798">600</text><text x="1686.9" y="798">700</text>
</g>
<text x="1590" y="824" font-size="17.5" fill="#222" text-anchor="middle">Wavelength (nm)</text>
<text transform="translate(1418,650) rotate(-90)" font-size="17.5" fill="#222" text-anchor="middle">Intensity (a.u.)</text>
<text x="1463" y="545" font-size="13" fill="#222">1%CP-ISO/CP-Lab</text>
<path d="M1604,537 H1619" stroke="#111" stroke-width="2.2"/>
<path d="M1604,553 H1619" stroke="#c62828" stroke-width="2.2"/>
<path d="M1604,568 H1619" stroke="#2e6e9a" stroke-width="2.2"/>
<text class="lg" x="1626" y="542">Delayed 10 ms</text>
<text class="lg" x="1626" y="558">Delayed 50 ms</text>
<text class="lg" x="1626" y="573">Delayed 500 ms</text>
<polyline class="cv" stroke="#111" points="1458,757 1487,757 1492.3,744.4 1496.9,715 1505.3,673 1513.7,631 1519.8,605.8 1526.7,589 1534.3,568 1539.6,557.5 1542.7,551.2 1546.5,553.3 1551.1,561.7 1557.2,572.2 1562.5,580.6 1568.6,589 1574.7,599.5 1580.1,610 1585.4,620.5 1591.5,631 1597.6,645.7 1602.9,658.3 1609.8,673 1614,676 1618.2,683.5 1622,686 1625.9,694 1630,697 1633.5,702.4 1638,706 1641.9,715 1645,716 1648.8,723.4 1652,722 1656.4,729.7 1661,731 1666.3,736 1670,735 1675.5,740.2 1680,739 1686.9,744.4 1692,743 1699.9,746.5 1704,745 1709.8,748.6 1714,746 1717.4,748.6 1721,746 1725,748.6"/>
<polyline class="cv" stroke="#c62828" points="1458,757 1483.9,757 1488.5,752.8 1493.9,746.5 1502.3,731.8 1510.6,715 1520.6,694 1526.7,683.5 1532,673 1538.1,666.7 1542.7,664.6 1545,667 1548,664.6 1551,668 1553.4,668.8 1556,666 1559.5,670.9 1563,672 1566.3,673 1569,670 1571.7,668.8 1574.7,662.5 1577.8,631 1581.6,597.4 1584.7,605.8 1587.7,620.5 1591.5,631 1595.3,624.7 1599.2,639.4 1604.5,652 1609.8,658.3 1614.4,652 1619,631 1622.8,620.5 1626.6,631 1630.4,652 1633.5,662.5 1637,670 1641.1,681.4 1647.2,694 1653.3,702.4 1657,707 1660.9,706.6 1665.5,702.4 1668,706 1671.6,706.6 1677.7,717.1 1684.6,725.5 1692.2,733.9 1699.9,740.2 1705,742 1709.8,744.4 1714,742 1719.7,746.5 1725,744.4"/>
<polyline class="cv" stroke="#2450a0" points="1458,757 1487,757 1497.7,752.8 1504,751 1511.4,750.7 1519,749 1526.7,748.6 1535,747 1542.7,746.5 1550,745 1557.2,744.4 1566.3,740.2 1572.5,731.8 1574.7,715 1577.8,673 1580.1,631 1582.4,578.5 1584.7,547 1587,589 1590.8,614.2 1593.8,626.8 1598.4,641.5 1603,652 1609.8,662.5 1614.4,652 1618.2,631 1621.3,599.5 1623.6,584.8 1626.6,599.5 1630.4,631 1633.5,641.5 1638.8,658.3 1643.4,673 1648.8,683.5 1653.3,689.8 1660.2,689.8 1665.5,685.6 1670.1,687.7 1675.5,698.2 1680,703 1684.6,710.8 1688,713 1692.2,721.3 1696,724 1699.9,731.8 1704,731 1709.8,736 1713,734 1717.4,738.1 1720,735 1723.5,740.2 1725,742.3"/>

<!-- Chart 2 photos -->
<rect x="1728" y="541" width="109" height="107" fill="#060504"/>
<rect x="1728" y="665" width="109" height="108" fill="#060504"/>
<g filter="url(#bl)">
 <ellipse cx="1781" cy="598" rx="33" ry="40" fill="#e8a030"/>
 <ellipse cx="1786" cy="592" rx="24" ry="32" fill="#ffe8a0"/>
 <ellipse cx="1790" cy="588" rx="14" ry="20" fill="#fff6d8"/>
 <ellipse cx="1781" cy="720" rx="33" ry="40" fill="#e48a1a"/>
 <ellipse cx="1786" cy="714" rx="22" ry="30" fill="#f6c04a"/>
 <ellipse cx="1790" cy="708" rx="12" ry="18" fill="#fadc80"/>
</g>
<text x="1733" y="557" font-size="13.5" fill="#fff">UV on</text>
<text x="1733" y="681" font-size="13.5" fill="#fff">UV off</text>
</svg>
</body></html>
